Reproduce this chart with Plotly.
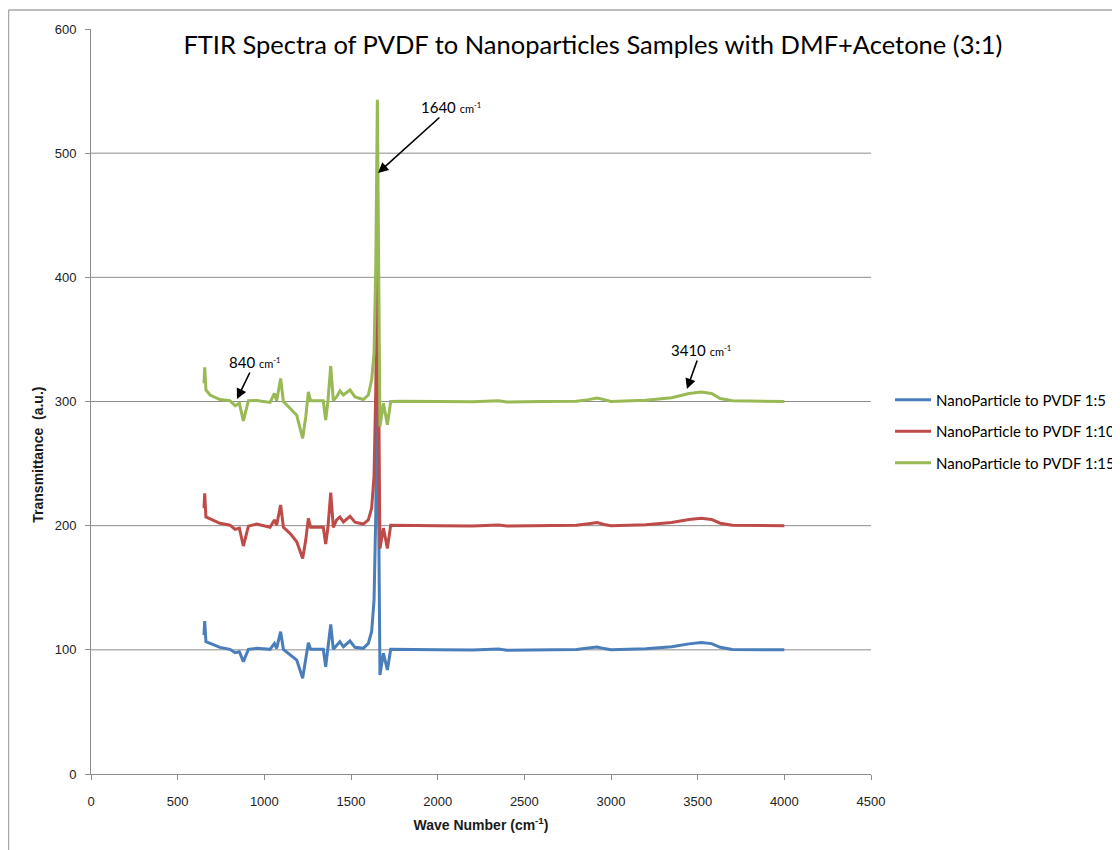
import plotly.graph_objects as go

wavenumber = [652, 656, 663, 687, 744, 802, 831, 856, 879, 908, 956, 1033, 1058, 1071, 1094,
              1110, 1148, 1187, 1221, 1239, 1254, 1267, 1340, 1354, 1367, 1383, 1398, 1417, 1436, 1456,
              1494, 1523, 1571, 1600, 1619, 1633, 1643, 1652, 1667, 1687, 1710, 1729, 1800, 2000, 2200,
              2350, 2400, 2600, 2800, 2870, 2920, 2960, 3000, 3200, 3350, 3450, 3520, 3580, 3630, 3700,
              3850, 4000]

ratio_1_5 = [111.9, 123.2, 106.6, 105.2, 102, 100.4, 97.7, 98.5, 90.5, 100.4, 101.2, 100.4, 105.2, 101.2, 114.6,
             100.4, 96.4, 91.8, 77.1, 91.8, 105.8, 100.4, 100.4, 86.4, 100.4, 120.5, 100.4, 103.9, 106.6, 102.5,
             107.1, 102, 101.2, 105.2, 114.6, 140, 210, 343, 79.7, 97.2, 83.8, 100.4, 100.2, 100, 99.8,
             100.6, 99.6, 100, 100.3, 101.5, 102.3, 101, 100, 100.8, 102.5, 104.8, 105.8, 105, 102, 100.3,
             100, 100]

ratio_1_10 = [214, 226, 207, 205.4, 201.9, 200.4, 197, 198, 183.6, 199.6, 201.3, 198.7, 204.6, 200.4, 216.6,
              198.7, 193.8, 187.1, 173.6, 188.4, 205.9, 198.7, 198.7, 185.2, 198.7, 226.6, 198.7, 204.6, 207, 203,
              207.5, 202.8, 201.3, 204.6, 214, 240, 310, 443, 181.7, 198, 181.7, 200.4, 200.2, 200, 199.8,
              200.5, 199.7, 200, 200.3, 201.5, 202.5, 201, 200, 200.8, 202.5, 205, 206, 205, 202, 200.3,
              200, 200]

ratio_1_15 = [314.6, 327.6, 309.3, 305.2, 301.6, 300.6, 296.6, 298.5, 284.3, 300.6, 300.8, 299.3, 306.5, 300.6, 318.5,
              300, 294.6, 289, 270.3, 287.6, 307.7, 300.6, 300.6, 285.1, 300.6, 328.6, 300.8, 303.7, 308.6, 305.2,
              309.3, 303.7, 301.6, 305.2, 317.4, 338.8, 410, 543, 279.9, 298.5, 281.3, 300, 300.2, 300, 299.8,
              300.6, 299.6, 300, 300.3, 301.5, 302.8, 301.5, 300, 301, 303, 306.5, 307.7, 306.5, 302.4, 300.6,
              300.2, 300]

series_names = ["NanoParticle to PVDF 1:5", "NanoParticle to PVDF 1:10", "NanoParticle to PVDF 1:15"]
series_values = [ratio_1_5, ratio_1_10, ratio_1_15]
series_colors = ["#4A7EBB", "#BE4B48", "#98B954"]

y_ticks = [0, 100, 200, 300, 400, 500, 600]
x_ticks = [0, 500, 1000, 1500, 2000, 2500, 3000, 3500, 4000, 4500]

# annotations: (label, wavenumber, value, dx, dy)
peak_labels = [("1640", 1656, 484, 73, -66), ("840", 842, 302, 18, -37), ("3410", 3438, 310, 14, -39)]

fig = go.Figure()
for i, (name, vals, col) in enumerate(zip(series_names, series_values, series_colors)):
    fig.add_trace(go.Scatter(x=wavenumber, y=vals, mode="lines", name=name,
                             legendgroup=f"g{i}",
                             line=dict(color=col, width=3)))

grid_color = "#8c8c8c"
shapes = []
for t in y_ticks[1:-1]:
    shapes.append(dict(type="line", xref="paper", yref="y", x0=0, x1=1, y0=t, y1=t,
                       line=dict(color=grid_color, width=1), layer="below"))
# outer chart frame (left and top edges)
shapes.append(dict(type="line", xref="paper", yref="paper", x0=-0.1058, x1=-0.1058, y0=1.0255, y1=-0.2,
                   line=dict(color="#a6a6a6", width=1.5)))
shapes.append(dict(type="line", xref="paper", yref="paper", x0=-0.1058, x1=1.4, y0=1.0255, y1=1.0255,
                   line=dict(color="#a6a6a6", width=1.5)))

annotations = []
for lab, wx, wy, dx, dy in peak_labels:
    annotations.append(dict(
        x=wx, y=wy, xref="x", yref="y", ax=dx, ay=dy, axref="pixel", ayref="pixel",
        text=f"{lab} <span style='font-size:11px'>cm<sup>-1</sup></span>",
        showarrow=True, arrowhead=2, arrowsize=1.3, arrowwidth=1.6, arrowcolor="black",
        font=dict(family="Lato", size=15, color="black")))
annotations.append(dict(
    x=-0.081, y=257, xref="paper", yref="y", text="<b>Transmittance  (a.u.)</b>",
    textangle=-90, showarrow=False, font=dict(family="Liberation Sans", size=14, color="#1a1a1a")))

fig.update_layout(
    width=1112, height=842,
    margin=dict(l=83, r=249, t=21, b=76, autoexpand=False),
    paper_bgcolor="white", plot_bgcolor="white",
    title=dict(text="FTIR Spectra of PVDF to Nanoparticles Samples with DMF+Acetone (3:1)",
               x=0.526, y=0.956, xref="container", yref="container", xanchor="center", yanchor="middle",
               font=dict(family="Lato", size=25.5, color="black")),
    showlegend=True,
    legend=dict(x=1.0244, y=0.524, xanchor="left", yanchor="top", tracegroupgap=9, itemwidth=36,
                font=dict(family="Lato", size=15, color="black"), bgcolor="rgba(0,0,0,0)"),
    shapes=shapes,
    annotations=annotations,
)
fig.update_xaxes(range=[0, 4500], tickvals=x_ticks, showgrid=False, zeroline=False,
                 showline=True, linecolor=grid_color, linewidth=1,
                 ticks="outside", ticklen=5, tickcolor=grid_color, ticklabelstandoff=10,
                 tickfont=dict(family="Liberation Sans", size=13, color="#222"),
                 title=dict(text="<b>Wave Number (cm<sup>-1</sup>)</b>", standoff=12,
                            font=dict(family="Liberation Sans", size=14, color="#1a1a1a")))
fig.update_yaxes(range=[0, 600], tickvals=y_ticks, showgrid=False, zeroline=False,
                 showline=True, linecolor=grid_color, linewidth=1,
                 ticks="outside", ticklen=5, tickcolor=grid_color, ticklabelstandoff=6,
                 tickfont=dict(family="Liberation Sans", size=13, color="#222"))

fig.write_html("out.html")
